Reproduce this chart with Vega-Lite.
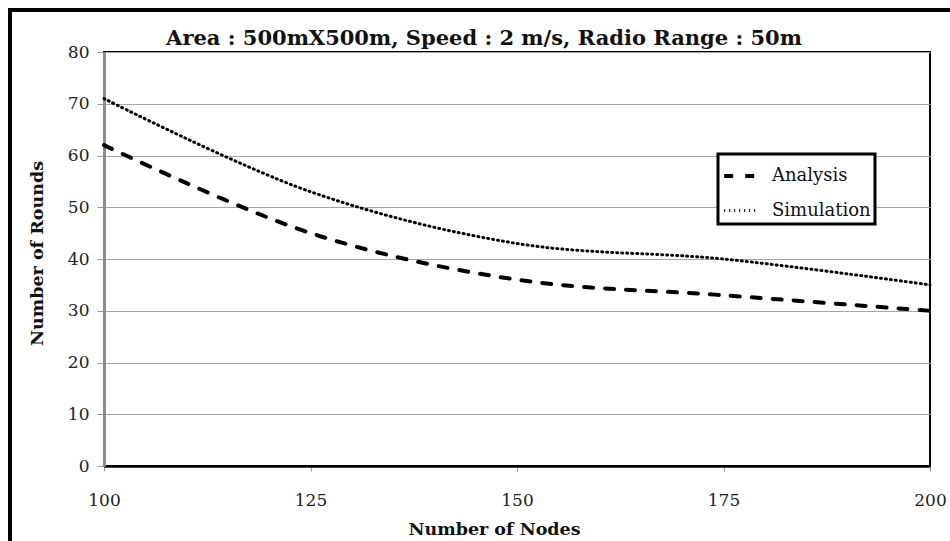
{
  "$schema": "https://vega.github.io/schema/vega-lite/v6.json",
  "width": 826,
  "height": 414,
  "autosize": {"type": "none"},
  "padding": {"left": 104, "top": 52, "right": 20, "bottom": 75},
  "background": "white",
  "config": {
    "font": "DejaVu Serif",
    "view": {"stroke": "black", "strokeWidth": 2},
    "axis": {"labelFont": "DejaVu Serif", "titleFont": "DejaVu Serif", "labelColor": "#222", "titleColor": "#111"},
    "legend": {"strokeColor": "black", "strokeWidth": 3, "fillColor": "white"}
  },
  "title": {
    "text": "Area : 500mX500m, Speed : 2 m/s, Radio Range : 50m",
    "font": "DejaVu Serif",
    "fontSize": 21,
    "fontWeight": "bold",
    "color": "#111",
    "anchor": "middle",
    "baseline": "alphabetic",
    "dx": -33,
    "offset": -58
  },
  "data": {
    "values": [
      {"nodes": 100, "rounds": 62, "series": "Analysis"},
      {"nodes": 125, "rounds": 45, "series": "Analysis"},
      {"nodes": 150, "rounds": 36, "series": "Analysis"},
      {"nodes": 175, "rounds": 33, "series": "Analysis"},
      {"nodes": 200, "rounds": 30, "series": "Analysis"},
      {"nodes": 100, "rounds": 71, "series": "Simulation"},
      {"nodes": 125, "rounds": 53, "series": "Simulation"},
      {"nodes": 150, "rounds": 43, "series": "Simulation"},
      {"nodes": 175, "rounds": 40, "series": "Simulation"},
      {"nodes": 200, "rounds": 35, "series": "Simulation"}
    ]
  },
  "layer": [
    {
      "mark": {"type": "line", "interpolate": "catmull-rom", "color": "black", "strokeCap": "round"},
      "encoding": {
        "x": {
          "field": "nodes", "type": "quantitative",
          "scale": {"domain": [100, 200], "nice": false, "zero": false},
          "axis": {
            "values": [100, 125, 150, 175, 200],
            "title": "Number of Nodes",
            "titleFontSize": 17.5, "titleFontWeight": "bold", "titlePadding": 12, "titleX": 390,
            "labelFontSize": 17, "labelPadding": 21, "labelFlush": false,
            "grid": false,
            "domainColor": "black", "domainWidth": 2.5,
            "tickColor": "#999", "tickSize": 5, "tickWidth": 1
          }
        },
        "y": {
          "field": "rounds", "type": "quantitative",
          "scale": {"domain": [0, 80], "nice": false},
          "axis": {
            "values": [0, 10, 20, 30, 40, 50, 60, 70, 80],
            "title": "Number of Rounds",
            "titleFontSize": 17.5, "titleFontWeight": "bold", "titlePadding": 21, "titleY": 201,
            "labelFontSize": 17, "labelPadding": 8,
            "grid": true, "gridColor": "#a6a6a6", "gridWidth": 1.2,
            "domainColor": "#8c8c8c", "domainWidth": 3,
            "tickColor": "#999", "tickSize": 7, "tickWidth": 1
          }
        },
        "strokeDash": {
          "field": "series", "type": "nominal",
          "scale": {"domain": ["Analysis", "Simulation"], "range": [[9, 12], [1, 4]]},
          "legend": {
            "title": null, "orient": "none", "legendX": 614, "legendY": 102,
            "symbolType": "stroke", "symbolSize": 1000, "symbolStrokeColor": "black",
            "labelFont": "DejaVu Serif", "labelFontSize": 18, "labelColor": "#111",
            "labelOffset": 14, "rowPadding": 8, "padding": 4
          }
        },
        "strokeWidth": {
          "field": "series", "type": "nominal",
          "scale": {"domain": ["Analysis", "Simulation"], "range": [4, 3]},
          "legend": {
            "title": null, "orient": "none", "legendX": 614, "legendY": 102,
            "symbolType": "stroke", "symbolSize": 1000, "symbolStrokeColor": "black",
            "labelFont": "DejaVu Serif", "labelFontSize": 18, "labelColor": "#111",
            "labelOffset": 14, "rowPadding": 8, "padding": 4
          }
        }
      }
    },
    {
      "mark": {"type": "rect", "fill": null, "stroke": "black", "strokeWidth": 3, "clip": false},
      "encoding": {
        "x": {"datum": 88.62},
        "x2": {"datum": 205},
        "y": {"datum": 88.12},
        "y2": {"datum": -16}
      }
    }
  ]
}
